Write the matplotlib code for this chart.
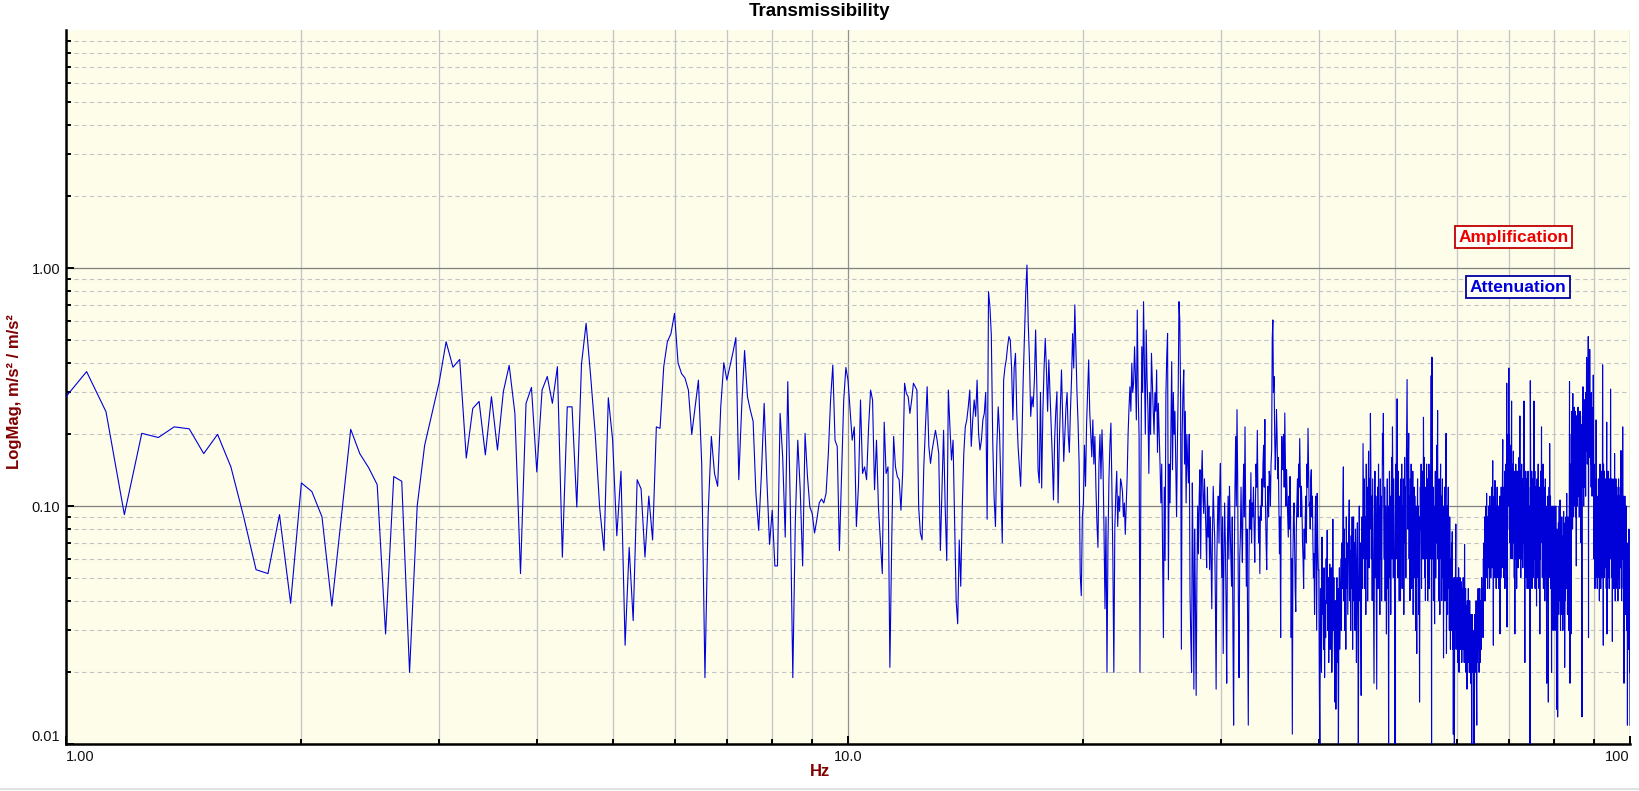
import numpy as np
import matplotlib
matplotlib.use('Agg')
import matplotlib.pyplot as plt
from matplotlib.ticker import LogLocator, NullFormatter
from matplotlib.lines import Line2D

plt.rcParams['font.family'] = ['Liberation Sans', 'DejaVu Sans']

# frequency bins: 1/16 Hz spacing starting at 1 Hz
FREQ_START = 1.0
FREQ_STEP = 0.0625

# transmissibility magnitude in units of 0.001 (m/s² / m/s²), one row = 1 Hz
mag_01_10hz = [
    288, 367, 249, 92, 202, 194, 215, 211, 166, 200, 146, 90, 54, 52, 92, 39,
    125, 115, 90, 38, 90, 210, 166, 145, 123, 29, 133, 127, 20, 100, 180, 245,
    330, 490, 383, 413, 159, 257, 275, 164, 288, 172, 303, 390, 245, 52, 270, 315,
    139, 307, 350, 270, 385, 61, 261, 261, 99, 395, 586, 350, 202, 99, 65, 285,
    190, 75, 140, 26, 67, 33, 129, 118, 61, 110, 72, 215, 212, 385, 490, 530,
    645, 400, 360, 345, 307, 200, 261, 338, 151, 19, 93, 196, 137, 121, 261, 400,
    338, 385, 440, 510, 129, 261, 450, 288, 253, 227, 113, 79, 137, 270, 129, 69,
    96, 56, 56, 245, 161, 74, 333, 100, 19, 85, 189, 117, 56, 202, 133, 99,
    93, 77, 88, 103, 107, 103, 113, 166, 279, 391, 189, 178, 65, 137, 279, 382,
]
mag_10_20hz = [
    338, 253, 189, 215, 82, 121, 279, 137, 146, 129, 215, 307, 279, 117, 189, 99,
    72, 52, 225, 137, 146, 21, 72, 196, 146, 133, 129, 96, 141, 328, 297, 288,
    245, 279, 328, 317, 307, 99, 77, 72, 146, 215, 317, 178, 151, 172, 189, 208,
    189, 166, 65, 117, 208, 99, 59, 307, 215, 156, 189, 85, 40, 32, 72, 46,
    99, 166, 215, 230, 261, 307, 178, 230, 279, 238, 338, 202, 172, 189, 230, 245,
    300, 88, 795, 688, 523, 189, 109, 82, 178, 261, 202, 117, 70, 338, 382, 413,
    469, 515, 498, 382, 230, 382, 438, 245, 178, 146, 121, 189, 338, 515, 780, 1029,
    590, 413, 238, 288, 261, 338, 549, 317, 142, 125, 300, 119, 250, 380, 506, 373,
    250, 411, 300, 220, 160, 106, 190, 250, 302, 103, 180, 260, 373, 240, 154, 200,
    260, 300, 200, 168, 250, 340, 530, 380, 700, 450, 300, 223, 150, 52, 42, 90,
]
mag_20_40hz = [
    103, 180, 121, 220, 300, 411, 250, 200, 161, 230, 150, 196, 120, 85, 67, 150,
    200, 130, 209, 150, 80, 37, 90, 20, 70, 130, 182, 223, 120, 60, 20, 80,
    111, 140, 82, 110, 95, 130, 124, 115, 90, 103, 76, 100, 133, 200, 260, 317,
    250, 398, 300, 330, 467, 350, 230, 666, 300, 196, 20, 129, 467, 300, 722, 373,
    200, 549, 339, 250, 137, 300, 200, 438, 330, 253, 200, 300, 250, 373, 168, 270,
    200, 150, 103, 150, 63, 28, 120, 59, 297, 424, 531, 49, 150, 103, 200, 404,
    142, 300, 200, 250, 150, 90, 180, 300, 722, 605, 300, 25, 200, 300, 373, 150,
    250, 103, 200, 150, 125, 200, 43, 28, 20, 125, 60, 17, 80, 40, 16, 50,
    100, 63, 110, 142, 60, 130, 171, 110, 93, 130, 100, 79, 55, 120, 74, 100,
    54, 90, 60, 37, 80, 121, 90, 74, 40, 17, 60, 90, 110, 70, 120, 151,
    80, 50, 90, 24, 60, 103, 70, 40, 18, 70, 110, 60, 121, 80, 60, 46,
    90, 30, 12, 60, 120, 196, 100, 254, 130, 40, 19, 60, 74, 120, 80, 58,
    110, 150, 90, 215, 100, 46, 80, 30, 12, 60, 106, 80, 138, 70, 103, 90,
    120, 80, 58, 100, 150, 120, 208, 110, 70, 90, 52, 100, 87, 130, 100, 151,
    180, 120, 231, 100, 70, 54, 100, 121, 90, 140, 133, 100, 150, 171, 506, 605,
    300, 350, 200, 142, 180, 254, 200, 130, 160, 100, 63, 90, 28, 120, 196, 150,
    142, 200, 120, 246, 150, 100, 142, 110, 90, 74, 110, 80, 133, 90, 28, 60,
    11, 60, 90, 103, 70, 45, 36, 80, 103, 130, 90, 150, 120, 192, 130, 90,
    121, 100, 70, 60, 45, 80, 60, 90, 110, 70, 150, 120, 212, 140, 100, 103,
    80, 130, 142, 90, 110, 70, 50, 63, 35, 80, 110, 60, 30, 113, 70, 54,
]
mag_40_70hz = [
    54, 18, 9, 45, 30, 20, 74, 35, 46, 25, 55, 19, 40, 28, 60, 39,
    79, 30, 50, 22, 45, 57, 25, 40, 55, 20, 35, 88, 30, 50, 25, 15,
    40, 14, 30, 50, 22, 45, 9, 35, 55, 25, 40, 60, 30, 70, 45, 100,
    146, 40, 80, 30, 60, 25, 90, 45, 70, 35, 55, 80, 106, 40, 65, 30,
    75, 45, 90, 25, 60, 90, 40, 70, 30, 80, 50, 22, 60, 85, 35, 9,
    50, 100, 40, 70, 30, 16, 60, 90, 45, 183, 100, 60, 130, 45, 90, 35,
    150, 60, 120, 40, 100, 170, 55, 130, 80, 245, 150, 60, 110, 40, 130, 70,
    35, 18, 90, 140, 50, 110, 40, 17, 80, 120, 45, 150, 70, 100, 35, 130,
    60, 110, 40, 90, 202, 150, 245, 90, 60, 120, 40, 100, 70, 29, 80, 130,
    45, 100, 9, 60, 140, 50, 110, 35, 90, 160, 60, 215, 120, 50, 130, 70,
    40, 10, 90, 150, 60, 120, 282, 100, 50, 140, 70, 40, 110, 60, 40, 130,
    80, 150, 45, 100, 60, 130, 35, 90, 160, 70, 120, 50, 140, 230, 340, 120,
    80, 150, 202, 60, 110, 40, 130, 70, 150, 45, 100, 60, 140, 35, 90, 120,
    50, 110, 70, 30, 100, 45, 24, 80, 130, 50, 100, 35, 90, 15, 60, 120,
    80, 150, 45, 110, 70, 140, 60, 236, 100, 160, 50, 120, 40, 110, 70, 150,
    60, 130, 40, 100, 70, 150, 45, 120, 60, 140, 90, 353, 9, 422, 150, 60,
    120, 40, 100, 60, 32, 90, 140, 50, 120, 70, 180, 100, 252, 60, 110, 40,
    130, 70, 35, 100, 150, 60, 110, 40, 90, 130, 50, 80, 23, 100, 60, 120,
    40, 90, 140, 202, 24, 60, 100, 35, 80, 120, 45, 70, 30, 90, 50, 25,
    60, 40, 70, 30, 78, 25, 50, 11, 40, 20, 9, 50, 30, 55, 84, 25,
    45, 30, 50, 22, 40, 28, 55, 20, 45, 32, 50, 25, 40, 30, 48, 22,
    35, 45, 25, 50, 30, 40, 22, 69, 35, 28, 45, 20, 38, 25, 17, 40,
    30, 22, 45, 28, 35, 20, 40, 25, 30, 18, 35, 22, 9, 28, 35, 20,
    30, 25, 15, 9, 28, 35, 20, 30, 25, 40, 18, 12, 30, 22, 35, 45,
    25, 38, 20, 30, 45, 22, 35, 28, 40, 25, 50, 30, 35, 45, 28, 60,
    40, 70, 50, 90, 40, 80, 55, 100, 60, 113, 50, 90, 45, 80, 60, 100,
    55, 90, 45, 110, 60, 85, 50, 100, 70, 120, 55, 95, 155, 60, 26, 100,
    70, 110, 50, 128, 80, 60, 100, 45, 90, 70, 120, 50, 85, 60, 100, 45,
    80, 60, 110, 29, 70, 100, 50, 120, 65, 90, 55, 130, 190, 70, 100, 50,
    120, 60, 140, 45, 100, 70, 150, 55, 110, 328, 31, 130, 80, 200, 100, 150,
]
mag_70_100hz = [
    380, 120, 200, 70, 150, 90, 180, 60, 130, 276, 80, 150, 60, 120, 90, 170,
    70, 140, 50, 110, 29, 130, 80, 150, 60, 120, 45, 100, 140, 70, 110, 55,
    130, 80, 160, 60, 110, 239, 90, 140, 50, 120, 75, 150, 60, 100, 130, 55,
    110, 70, 150, 276, 90, 60, 22, 120, 80, 140, 50, 100, 70, 130, 45, 110,
    80, 140, 60, 120, 45, 100, 70, 90, 9, 336, 150, 80, 120, 60, 140, 45,
    100, 70, 130, 50, 110, 80, 276, 100, 60, 140, 45, 90, 120, 60, 100, 38,
    80, 130, 50, 110, 70, 150, 60, 100, 45, 120, 80, 29, 110, 60, 140, 70,
    100, 215, 80, 130, 50, 110, 70, 150, 45, 90, 120, 60, 100, 40, 80, 130,
    55, 100, 70, 45, 18, 90, 60, 110, 40, 80, 15, 100, 60, 120, 50, 183,
    90, 60, 110, 45, 80, 55, 20, 70, 100, 40, 90, 60, 30, 80, 50, 100,
    60, 40, 90, 30, 70, 45, 100, 35, 60, 14, 50, 80, 30, 13, 60, 45,
    85, 35, 60, 100, 40, 70, 106, 50, 30, 80, 45, 65, 35, 90, 50, 40,
    75, 30, 60, 45, 95, 35, 55, 70, 21, 50, 85, 40, 65, 90, 45, 75,
    113, 50, 80, 35, 65, 90, 40, 70, 30, 60, 100, 333, 40, 18, 60, 90,
    150, 29, 200, 100, 250, 120, 180, 80, 297, 140, 220, 90, 180, 130, 260, 100,
    200, 140, 250, 90, 170, 120, 56, 200, 150, 240, 100, 180, 130, 260, 110, 190,
    140, 230, 90, 200, 160, 250, 110, 180, 70, 220, 140, 190, 60, 13, 150, 240,
    120, 317, 160, 220, 100, 250, 140, 180, 120, 280, 150, 210, 110, 300, 170, 240,
    421, 200, 300, 150, 260, 180, 350, 515, 28, 380, 220, 300, 160, 455, 250, 180,
    280, 150, 240, 120, 300, 200, 260, 110, 220, 170, 240, 140, 355, 200, 60, 150,
    100, 60, 130, 45, 90, 70, 120, 50, 230, 80, 130, 60, 100, 45, 90, 70,
    110, 55, 50, 130, 70, 100, 40, 120, 80, 150, 60, 100, 45, 130, 70, 110,
    50, 140, 80, 100, 392, 120, 60, 26, 150, 80, 110, 50, 140, 70, 120, 55,
    90, 130, 60, 110, 45, 100, 225, 29, 130, 70, 110, 50, 140, 80, 100, 60,
    120, 45, 90, 130, 60, 100, 70, 310, 110, 60, 130, 50, 90, 120, 45, 27,
    100, 60, 130, 70, 110, 45, 90, 120, 55, 166, 80, 100, 40, 110, 70, 130,
    50, 100, 80, 120, 45, 90, 60, 110, 40, 100, 70, 130, 50, 90, 60, 110,
    45, 100, 70, 120, 55, 90, 171, 60, 110, 40, 100, 130, 60, 90, 215, 80,
    110, 45, 90, 60, 18, 100, 70, 40, 110, 55, 80, 35, 90, 60, 100, 40,
    70, 30, 60, 45, 12, 50, 35, 70, 25, 55, 40, 80, 30, 50, 20, 40,
    12,
]

x_ticks = [1, 10, 100]
x_tick_labels = ['1.00', '10.0', '100']
y_ticks = [0.01, 0.1, 1]
y_tick_labels = ['0.01', '0.10', '1.00']

mag = np.array(mag_01_10hz + mag_10_20hz + mag_20_40hz + mag_40_70hz + mag_70_100hz) / 1000.0
freq = FREQ_START + FREQ_STEP * np.arange(len(mag))

W, H = 1640, 791
fig = plt.figure(figsize=(W / 100, H / 100), dpi=100)
fig.patch.set_facecolor('white')
ax = fig.add_axes([66 / W, (H - 744) / H, (1630 - 66) / W, (744 - 30) / H])
ax.set_facecolor('#fdfdea')

ax.plot(freq, mag, color='#0000d8', lw=0.8, zorder=3)

ax.set_xscale('log')
ax.set_yscale('log')
ax.set_xlim(1, 100)
ax.set_ylim(0.01, 10)

ax.set_xticks(x_ticks)
ax.set_xticklabels(x_tick_labels)
ax.set_yticks(y_ticks)
ax.set_yticklabels(y_tick_labels)
ax.xaxis.set_minor_locator(LogLocator(base=10, subs=np.arange(2, 10), numticks=20))
ax.yaxis.set_minor_locator(LogLocator(base=10, subs=np.arange(2, 10), numticks=20))
ax.xaxis.set_minor_formatter(NullFormatter())
ax.yaxis.set_minor_formatter(NullFormatter())

xl = ax.get_xticklabels()
xl[0].set_ha('left')
xl[-1].set_ha('right')
yl = ax.get_yticklabels()
yl[0].set_va('bottom')

# grid: solid verticals, dashed horizontal minors
ax.set_axisbelow(True)
ax.grid(which='major', axis='x', color='#909090', lw=0.9, ls='-')
ax.grid(which='minor', axis='x', color='#c4c4c4', lw=0.9, ls='-')
ax.grid(which='major', axis='y', color='#808080', lw=0.9, ls='-')
ax.grid(which='minor', axis='y', color='#c4c4c4', lw=0.8, ls=(0, (4, 3)))

ax.tick_params(which='major', direction='in', length=6, width=1.4, labelsize=10.5,
               top=False, right=False, pad=4, labelcolor='#111111')
ax.tick_params(which='minor', direction='in', length=3.5, width=1.4, top=False, right=False)

for side in ['top', 'right']:
    ax.spines[side].set_visible(False)
for side in ['left', 'bottom']:
    ax.spines[side].set_linewidth(1.8)
    ax.spines[side].set_color('black')

fig.text(0.5, 1 - 12 / H, 'Transmissibility', ha='center', va='center',
         fontsize=13.5, fontweight='bold', color='black')
fig.text(0.5, 1 - 772 / H, 'Hz', ha='center', va='center',
         fontsize=12, fontweight='bold', color='#800000')
fig.text(14.5 / W, 1 - 392 / H, 'LogMag, m/s² / m/s²', ha='center', va='center',
         rotation=90, fontsize=12, fontweight='bold', color='#800000')

ax.text(0.9255, 0.710, 'Amplification', transform=ax.transAxes, ha='center', va='center',
        fontsize=12.5, fontweight='bold', color='#ee0000', zorder=5,
        bbox=dict(boxstyle='square,pad=0.22', facecolor='#fffffa', edgecolor='#c00000', lw=1.3))
ax.text(0.9284, 0.640, 'Attenuation', transform=ax.transAxes, ha='center', va='center',
        fontsize=12.5, fontweight='bold', color='#0000dd', zorder=5,
        bbox=dict(boxstyle='square,pad=0.22', facecolor='#fffffa', edgecolor='#0000a0', lw=1.3))

fig.add_artist(Line2D([0, 1], [1 - 789 / H] * 2, transform=fig.transFigure,
                      color='#e2e2e2', lw=1.5))

fig.savefig('out.png', dpi=100)
